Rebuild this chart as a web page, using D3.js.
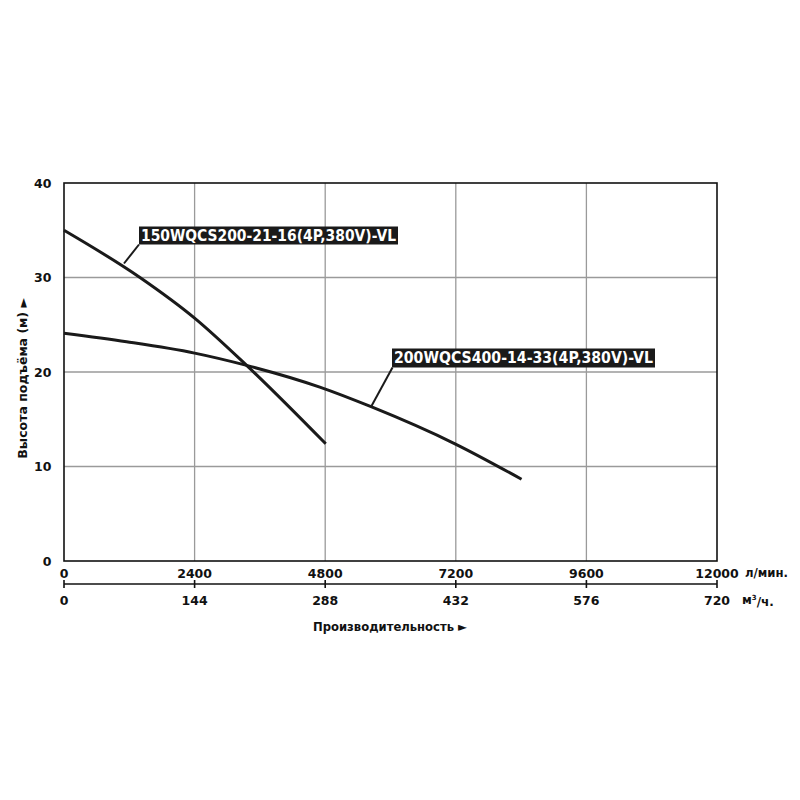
<!DOCTYPE html>
<html><head><meta charset="utf-8">
<script src="https://cdn.jsdelivr.net/npm/d3@7"></script>
<style>body{margin:0;background:#fff}svg{display:block}</style>
</head><body>
<svg id="c" width="800" height="800"></svg>
<script>
const flowTicksLmin = [0, 2400, 4800, 7200, 9600, 12000];
const flowTicksM3h = [0, 144, 288, 432, 576, 720];
const headTicks = [0, 10, 20, 30, 40];
const seriesNames = ["150WQCS200-21-16(4P,380V)-VL", "200WQCS400-14-33(4P,380V)-VL"];
const curve1Flow = [0, 1396, 2400, 3356, 4810];
const curve1Head = [35.0, 30.0, 25.7, 20.7, 12.4];
const curve2Flow = [0, 1150, 2400, 3356, 4701, 5654, 7185, 8408];
const curve2Head = [24.1, 23.2, 22.0, 20.7, 18.4, 16.3, 12.4, 8.65];

const svg = d3.select("#c");
const L = 64, R = 717, T = 183, B = 561;
const x = d3.scaleLinear().domain([0, 12000]).range([L, R]);
const x2 = d3.scaleLinear().domain([0, 720]).range([L, R]);
const y = d3.scaleLinear().domain([0, 40]).range([B, T]);
const font = "'DejaVu Sans',Verdana,sans-serif";
const ink = "#111";

// grid
const g = svg.append("g");
g.selectAll(".vg").data(flowTicksLmin.slice(1, -1)).enter().append("line")
  .attr("x1", d => x(d)).attr("x2", d => x(d)).attr("y1", T).attr("y2", B)
  .attr("stroke", "#9a9a9a").attr("stroke-width", 1.3);
g.selectAll(".hg").data(headTicks.slice(1, -1)).enter().append("line")
  .attr("y1", d => y(d)).attr("y2", d => y(d)).attr("x1", L).attr("x2", R)
  .attr("stroke", "#9a9a9a").attr("stroke-width", 1.3);
svg.append("rect").attr("x", L).attr("y", T).attr("width", R - L).attr("height", B - T)
  .attr("fill", "none").attr("stroke", ink).attr("stroke-width", 1.6);

// y tick labels
svg.selectAll(".yt").data(headTicks).enter().append("text")
  .attr("x", 51.5).attr("y", d => y(d)).attr("dy", "0.36em")
  .attr("text-anchor", "end").attr("font-family", font).attr("font-weight", "bold")
  .attr("font-size", 12.5).attr("fill", ink).text(d => d);

// x tick labels (l/min)
svg.selectAll(".xt").data(flowTicksLmin).enter().append("text")
  .attr("x", d => x(d)).attr("y", 573).attr("dy", "0.36em")
  .attr("text-anchor", "middle").attr("font-family", font).attr("font-weight", "bold")
  .attr("font-size", 12.5).attr("fill", ink).text(d => d);
svg.append("text").attr("x", 745).attr("y", 573).attr("dy", "0.36em")
  .attr("font-family", font).attr("font-weight", "bold").attr("font-size", 12)
  .attr("fill", ink).attr("textLength", 43).attr("lengthAdjust", "spacingAndGlyphs").text("л/мин.");

// second axis m3/h
const ay = 584;
svg.append("line").attr("x1", L).attr("x2", R).attr("y1", ay).attr("y2", ay)
  .attr("stroke", ink).attr("stroke-width", 1.6);
svg.selectAll(".t2").data(flowTicksM3h).enter().append("line")
  .attr("x1", d => x2(d)).attr("x2", d => x2(d)).attr("y1", ay - 4).attr("y2", ay + 4)
  .attr("stroke", ink).attr("stroke-width", 1.6);
svg.selectAll(".xt2").data(flowTicksM3h).enter().append("text")
  .attr("x", d => x2(d)).attr("y", 600).attr("dy", "0.36em")
  .attr("text-anchor", "middle").attr("font-family", font).attr("font-weight", "bold")
  .attr("font-size", 12.5).attr("fill", ink).text(d => d);
const u2 = svg.append("text").attr("x", 742).attr("y", 600).attr("dy", "0.36em")
  .attr("font-family", font).attr("font-weight", "bold").attr("font-size", 12).attr("fill", ink);
u2.append("tspan").text("м");
u2.append("tspan").attr("font-size", 7).attr("dy", "-0.6em").text("3");
u2.append("tspan").attr("dy", "0.45em").text("/ч.");

// axis titles
svg.append("text").attr("x", 313).attr("y", 626).attr("dy", "0.36em")
  .attr("font-family", font).attr("font-weight", "bold")
  .attr("font-size", 12.5).attr("fill", ink)
  .attr("textLength", 154).attr("lengthAdjust", "spacingAndGlyphs").text("Производительность ►");
svg.append("text").attr("transform", "translate(22,298) rotate(-90)").attr("dy", "0.36em")
  .attr("text-anchor", "end").attr("font-family", font).attr("font-weight", "bold")
  .attr("font-size", 12.5).attr("fill", ink).text("Высота подъёма (м) ►");

// curves
const line = d3.line().x(d => x(d[0])).y(d => y(d[1])).curve(d3.curveMonotoneX);
const c1 = curve1Flow.map((f, i) => [f, curve1Head[i]]);
const c2 = curve2Flow.map((f, i) => [f, curve2Head[i]]);
[c1, c2].forEach(c => svg.append("path").attr("d", line(c)).attr("fill", "none")
  .attr("stroke", "#1a1a1a").attr("stroke-width", 3).attr("stroke-linecap", "butt"));

// labels
const labels = [
  {name: seriesNames[0], bx: 139, by: 226.5, bw: 259, bh: 18, lx1: 139, ly1: 244.5, lx2: 124, ly2: 263.5},
  {name: seriesNames[1], bx: 392, by: 348.5, bw: 263, bh: 19, lx1: 392.5, ly1: 367.5, lx2: 371.5, ly2: 406}
];
labels.forEach(l => {
  svg.append("line").attr("x1", l.lx1).attr("y1", l.ly1).attr("x2", l.lx2).attr("y2", l.ly2)
    .attr("stroke", "#1a1a1a").attr("stroke-width", 2);
  svg.append("rect").attr("x", l.bx).attr("y", l.by).attr("width", l.bw).attr("height", l.bh)
    .attr("fill", "#1a1a1a");
  svg.append("text").attr("x", l.bx + 2).attr("y", l.by + l.bh / 2).attr("dy", "0.36em")
    .attr("font-family", font).attr("font-weight", "bold").attr("font-size", 15)
    .attr("fill", "#fff").attr("textLength", l.bw - 4).attr("lengthAdjust", "spacingAndGlyphs")
    .text(l.name);
});
</script>
</body></html>
